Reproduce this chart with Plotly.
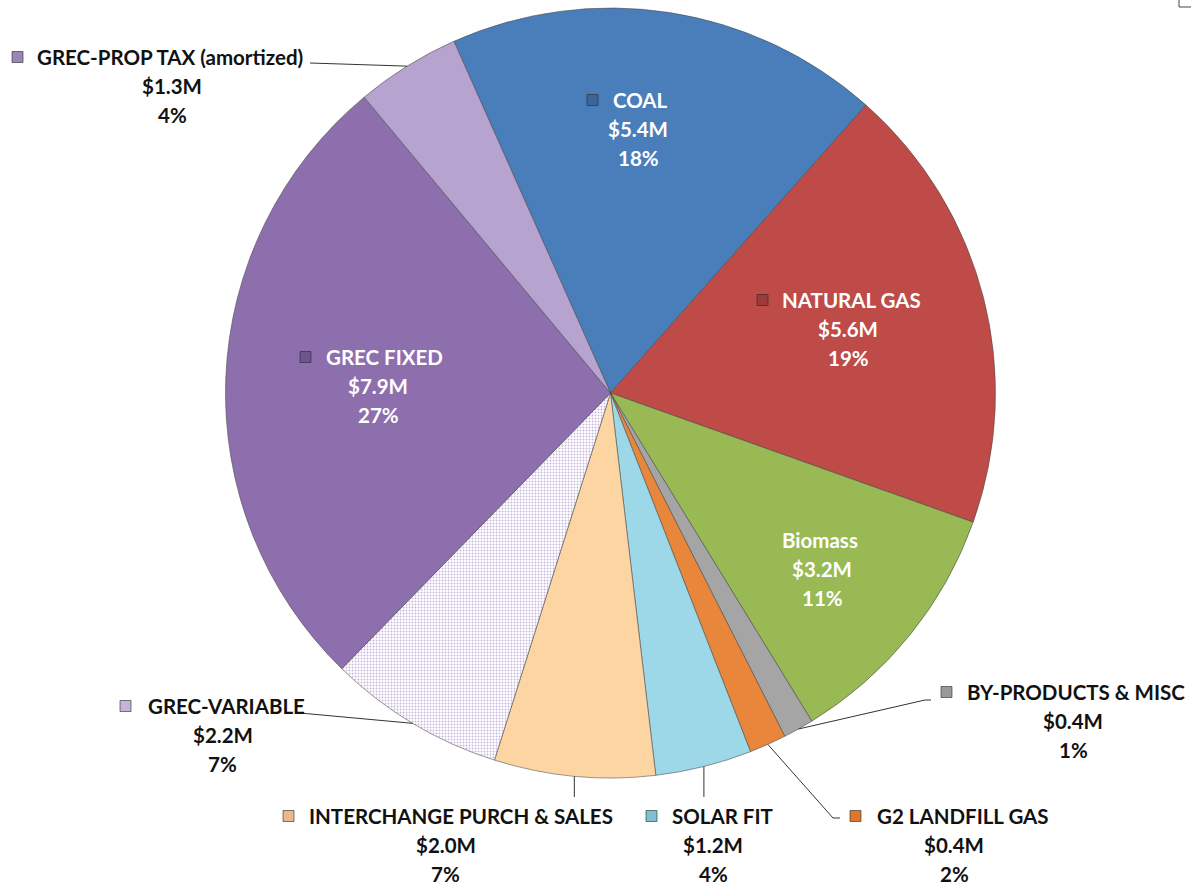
import numpy as np
import plotly.graph_objects as go

# ---------------- data ----------------
categories = ["COAL", "NATURAL GAS", "Biomass", "BY-PRODUCTS & MISC", "G2 LANDFILL GAS",
              "SOLAR FIT", "INTERCHANGE PURCH & SALES", "GREC-VARIABLE", "GREC FIXED",
              "GREC-PROP TAX (amortized)"]
values = [5.4, 5.6, 3.2, 0.38, 0.46, 1.2, 2.0, 2.2, 7.9, 1.3]
value_labels = ["$5.4M", "$5.6M", "$3.2M", "$0.4M", "$0.4M", "$1.2M", "$2.0M", "$2.2M", "$7.9M", "$1.3M"]
pct_labels = ["18%", "19%", "11%", "1%", "2%", "4%", "7%", "7%", "27%", "4%"]

# ---------------- style ----------------
colors = ["#4A7EBB", "#BE4B48", "#98B954", "#A5A5A5", "#E8873C",
          "#9DD8E8", "#FCD5A3", "#DCD0EA", "#8E6FAE", "#B7A3CF"]
marker_colors = ["#3B6796", "#9E3A38", "#98B954", "#9A9A9A", "#D9782E",
                 "#7FC0D2", "#E9B98A", "#C4B5D8", "#6E5490", "#9C86B8"]
inside = [True, True, True, False, False, False, False, False, True, False]

W, H = 1191, 887
CX, CY, R = 610.5, 393, 385
ROTATION = -24

# label layout (pixel positions): marker x, text-left x, first-line y, centre x of lines 2/3
label_pos = {
    "COAL": (587, 611, 100, 638),
    "NATURAL GAS": (757, 780, 300, 848),
    "Biomass": (None, 780, 540, 822),
    "BY-PRODUCTS & MISC": (941, 965, 692, 1073),
    "G2 LANDFILL GAS": (850, 875, 816, 954),
    "SOLAR FIT": (646, 670, 816, 713),
    "INTERCHANGE PURCH & SALES": (283, 307, 816, 446),
    "GREC-VARIABLE": (120, 146, 706, 223),
    "GREC FIXED": (300, 324, 357, 378),
    "GREC-PROP TAX (amortized)": (12, 35, 57, 172),
}
# label-side leader points (pixel); list of points from label toward pie edge
leader_pts = {
    "GREC-PROP TAX (amortized)": [(310, 63)],
    "GREC-VARIABLE": [(300, 713)],
    "INTERCHANGE PURCH & SALES": [(None, 797)],
    "SOLAR FIT": [(None, 797)],
    "G2 LANDFILL GAS": [(840, 818), (833, 818)],
    "BY-PRODUCTS & MISC": [(931, 700), (925, 700)],
}

FONT = "Lato, 'Open Sans', sans-serif"
FS = 20.5


def px(x):
    return x / W


def py(y):
    return 1 - y / H


fig = go.Figure()
pattern_shapes = ["." if c == "GREC-VARIABLE" else "" for c in categories]
fig.add_trace(go.Pie(
    labels=categories, values=values, sort=False, direction="clockwise",
    rotation=ROTATION, textinfo="none", hoverinfo="label+value+percent",
    marker=dict(colors=colors, line=dict(color="rgba(70,70,70,0.55)", width=1),
                pattern=dict(shape=pattern_shapes, fgcolor="#C6B6DC", size=3, solidity=0.3)),
    domain=dict(x=[px(CX - R), px(CX + R)], y=[py(CY + R), py(CY - R)]),
    showlegend=False,
))

total = sum(values)
cum = np.concatenate([[0], np.cumsum(values)])
annotations = []
shapes = []
for i, cat in enumerate(categories):
    start = ROTATION + 360 * cum[i] / total
    end = ROTATION + 360 * cum[i + 1] / total
    mid = np.radians((start + end) / 2)
    ex, ey = CX + R * np.sin(mid), CY - R * np.cos(mid)

    mx, tx, ty, cx = label_pos[cat]
    tcol = "white" if inside[i] else "#111111"
    annotations.append(dict(x=px(tx), y=py(ty), xref="paper", yref="paper", text=f"<b>{cat}</b>",
                            xanchor="left", yanchor="middle", showarrow=False,
                            font=dict(family=FONT, size=FS, color=tcol)))
    annotations.append(dict(x=px(cx), y=py(ty + 29), xref="paper", yref="paper",
                            text=f"<b>{value_labels[i]}</b>", xanchor="center", yanchor="middle",
                            showarrow=False, font=dict(family=FONT, size=FS, color=tcol)))
    annotations.append(dict(x=px(cx), y=py(ty + 58), xref="paper", yref="paper",
                            text=f"<b>{pct_labels[i]}</b>", xanchor="center", yanchor="middle",
                            showarrow=False, font=dict(family=FONT, size=FS, color=tcol)))
    if mx is not None:
        shapes.append(dict(type="rect", xref="paper", yref="paper",
                           x0=px(mx), x1=px(mx + 11), y0=py(ty - 5.5), y1=py(ty + 5.5),
                           fillcolor=marker_colors[i], line=dict(color="rgba(40,40,40,0.6)", width=1)))
    if cat in leader_pts:
        pts = [(ex if p[0] is None else p[0], p[1]) for p in leader_pts[cat]] + [(ex, ey)]
        for (x0, y0), (x1, y1) in zip(pts[:-1], pts[1:]):
            shapes.append(dict(type="line", xref="paper", yref="paper",
                               x0=px(x0), y0=py(y0), x1=px(x1), y1=py(y1),
                               line=dict(color="#333333", width=1)))

# small frame corner at top right
shapes.append(dict(type="line", xref="paper", yref="paper", x0=px(1179), x1=px(1179), y0=py(0), y1=py(7),
                   line=dict(color="#444444", width=1)))
shapes.append(dict(type="line", xref="paper", yref="paper", x0=px(1179), x1=px(1191), y0=py(7), y1=py(7),
                   line=dict(color="#444444", width=1)))

fig.update_layout(
    width=W, height=H, margin=dict(l=0, r=0, t=0, b=0),
    paper_bgcolor="white", plot_bgcolor="white",
    annotations=annotations, shapes=shapes,
)

fig.write_html("out.html", config={"displayModeBar": False},
               post_script="document.body.style.margin='0';")
